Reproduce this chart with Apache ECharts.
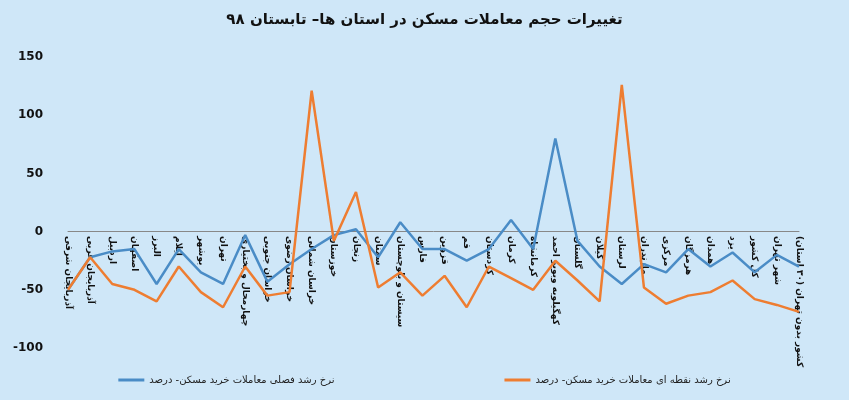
<!DOCTYPE html>
<html lang="fa" style="height: 100%">
<head>
  <meta charset="utf-8">
</head>
<body style="height: 100%; margin: 0; background: #cfe7f8">
  <div id="container" style="height: 100%"></div>
  <script src="https://cdn.jsdelivr.net/npm/echarts@6/dist/echarts.min.js"></script>
  <script>
var provinces = ['آذربایجان شرقی', 'آذربایجان غربی', 'اردبیل', 'اصفهان', 'البرز', 'ایلام', 'بوشهر', 'تهران',
  'چهارمحال و بختیاری', 'خراسان جنوبی', 'خراسان رضوی', 'خراسان شمالی', 'خوزستان', 'زنجان', 'سمنان',
  'سیستان و بلوچستان', 'فارس', 'قزوین', 'قم', 'کردستان', 'کرمان', 'کرمانشاه', 'کهگیلویه وبویر احمد',
  'گلستان', 'گیلان', 'لرستان', 'مازندران', 'مرکزی', 'هرمزگان', 'همدان', 'یزد', 'کل کشور', 'شهر تهران',
  'کشور بدون تهران (۳۰ استان)'];

var seasonalGrowth = [-50, -22, -17, -15, -45, -15, -35, -45, -3, -43, -28, -15, -3, 2, -22,
  8, -15, -15, -25, -15, 10, -15, 80, -8, -30, -45, -28, -35, -15, -30, -18, -35, -20, -30];

var pointGrowth = [-50, -22, -45, -50, -60, -30, -52, -65, -30, -55, -52, 121, -8, 34, -48,
  -35, -55, -38, -65, -30, -40, -50, -25, -42, -60, 126, -48, -62, -55, -52, -42, -58, -63, -69];

var myChart = echarts.init(document.getElementById('container'));
var font = 'DejaVu Sans';

var option = {
  backgroundColor: '#cfe7f8',
  title: {
    text: 'تغییرات حجم معاملات مسکن در استان ها– تابستان ۹۸',
    left: 'center',
    top: 8,
    textStyle: { fontFamily: font, fontSize: 15, fontWeight: 'bold', color: '#111' }
  },
  legend: {
    bottom: 10,
    itemGap: 170,
    icon: 'rect',
    itemWidth: 26,
    itemHeight: 3,
    textStyle: { fontFamily: font, fontSize: 10, color: '#222' },
    data: ['نرخ رشد فصلی معاملات خرید مسکن- درصد', 'نرخ رشد نقطه ای معاملات خرید مسکن- درصد']
  },
  grid: { left: 68, right: 50, top: 57, bottom: 52 },
  xAxis: {
    type: 'category',
    boundaryGap: false,
    data: provinces,
    axisLine: { onZero: true, lineStyle: { color: '#888' } },
    axisTick: { show: false },
    axisLabel: {
      interval: 0, rotate: -90, align: 'left', fontFamily: font, fontSize: 9, color: '#111',
      fontWeight: 'bold', margin: -112
    }
  },
  yAxis: {
    type: 'value',
    min: -100, max: 150, interval: 50,
    axisLine: { show: false },
    axisTick: { show: false },
    splitLine: { show: false },
    axisLabel: { fontFamily: font, fontSize: 12, fontWeight: 'bold', color: '#111', margin: 25 }
  },
  series: [
    {
      name: 'نرخ رشد فصلی معاملات خرید مسکن- درصد',
      type: 'line',
      data: seasonalGrowth,
      symbol: 'none',
      lineStyle: { width: 2.5, color: '#4a8cc6' },
      itemStyle: { color: '#4a8cc6' }
    },
    {
      name: 'نرخ رشد نقطه ای معاملات خرید مسکن- درصد',
      type: 'line',
      data: pointGrowth,
      symbol: 'none',
      lineStyle: { width: 2.5, color: '#ee7d31' },
      itemStyle: { color: '#ee7d31' }
    }
  ]
};
myChart.setOption(option);
window.addEventListener('resize', myChart.resize);
  </script>
</body>
</html>
